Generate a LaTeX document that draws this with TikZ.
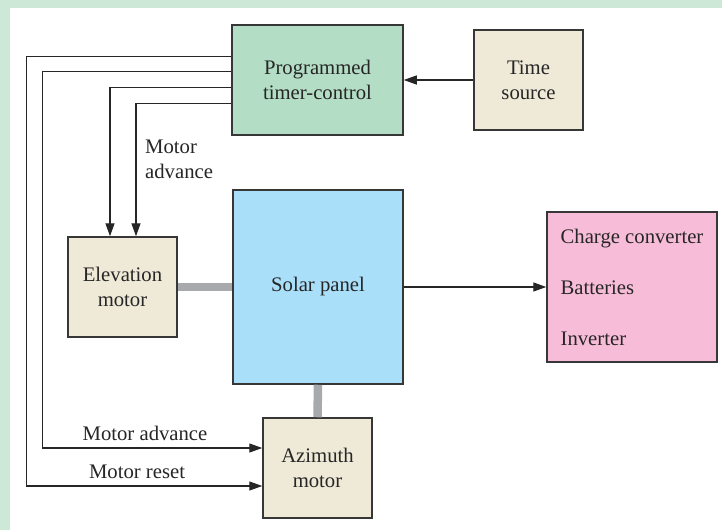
\documentclass[tikz,border=0pt]{standalone}
\usepackage{fontspec}
\setmainfont{Liberation Serif}
\newfontfamily\diagfont{Liberation Serif}
\usetikzlibrary{arrows.meta}
\definecolor{framegreen}{RGB}{206,232,215}
\definecolor{timergreen}{RGB}{179,221,196}
\definecolor{tan}{RGB}{239,233,215}
\definecolor{panelblue}{RGB}{170,223,250}
\definecolor{pinkbox}{RGB}{247,188,216}
\definecolor{bargray}{RGB}{167,169,172}
\definecolor{edge}{RGB}{55,55,55}
\tikzset{
  txt/.style={font=\diagfont\fontsize{20.7pt}{25pt}\selectfont, text=black!85},
  blk/.style={txt, draw=edge, line width=1.5pt, align=center, inner sep=0pt},
  arr/.style={line width=1.3pt, draw=black!85, -{Triangle[length=13pt,width=9pt]}},
  bar/.style={line width=8.5pt, draw=bargray}
}
\begin{document}
\begin{tikzpicture}[x=1pt,y=-1pt]
\useasboundingbox (0,0) rectangle (722,530);
\fill[framegreen] (0,0) rectangle (722,530);
\fill[white] (10,8) rectangle (722,530);

\node[blk, fill=timergreen, minimum width=171pt, minimum height=110pt] (timer) at (317.5,80) {Programmed\\timer-control};
\node[blk, fill=tan, minimum width=109pt, minimum height=100pt] (time) at (528.5,80) {Time\\source};
\node[blk, fill=panelblue, minimum width=170pt, minimum height=194pt] (panel) at (318,287) {Solar panel};
\node[blk, fill=tan, minimum width=109pt, minimum height=100pt] (elev) at (122.5,287) {Elevation\\motor};
\node[blk, fill=tan, minimum width=109pt, minimum height=100pt] (azim) at (317.5,468) {Azimuth\\motor};
\node[blk, fill=pinkbox, minimum width=170pt, minimum height=150pt, align=left] (out) at (632,287) {Charge converter\\[26pt]Batteries\\[26pt]Inverter};

% gray mechanical links
\draw[bar] (elev.east) -- (panel.west);
\draw[bar] (panel.south) -- (azim.north);

% signal connectors
\draw[arr] (time.west) -- (timer.east);
\draw[arr] (panel.east) -- (out.west);
\draw[arr] ([yshift=-32pt]timer.north west) -- ++(-205,0) |- ([yshift=-18pt]azim.west);
\draw[arr] ([yshift=-47pt]timer.north west) -- ++(-189,0) |- ([yshift=20pt]azim.west);
\draw[arr] ([yshift=-63pt]timer.north west) -| ([xshift=-12.5pt]elev.north);
\draw[arr] ([yshift=-79pt]timer.north west) -| ([xshift=13.5pt]elev.north);

% labels
\node[txt, anchor=north west, inner sep=0pt, align=left] (lblelev) at (145,139.5) {Motor\\advance};
\node[txt, anchor=base, inner sep=0pt] (lbladv) at (145,440) {Motor advance};
\node[txt, anchor=base, inner sep=0pt] (lblreset) at (137,478) {Motor reset};
\end{tikzpicture}
\end{document}
